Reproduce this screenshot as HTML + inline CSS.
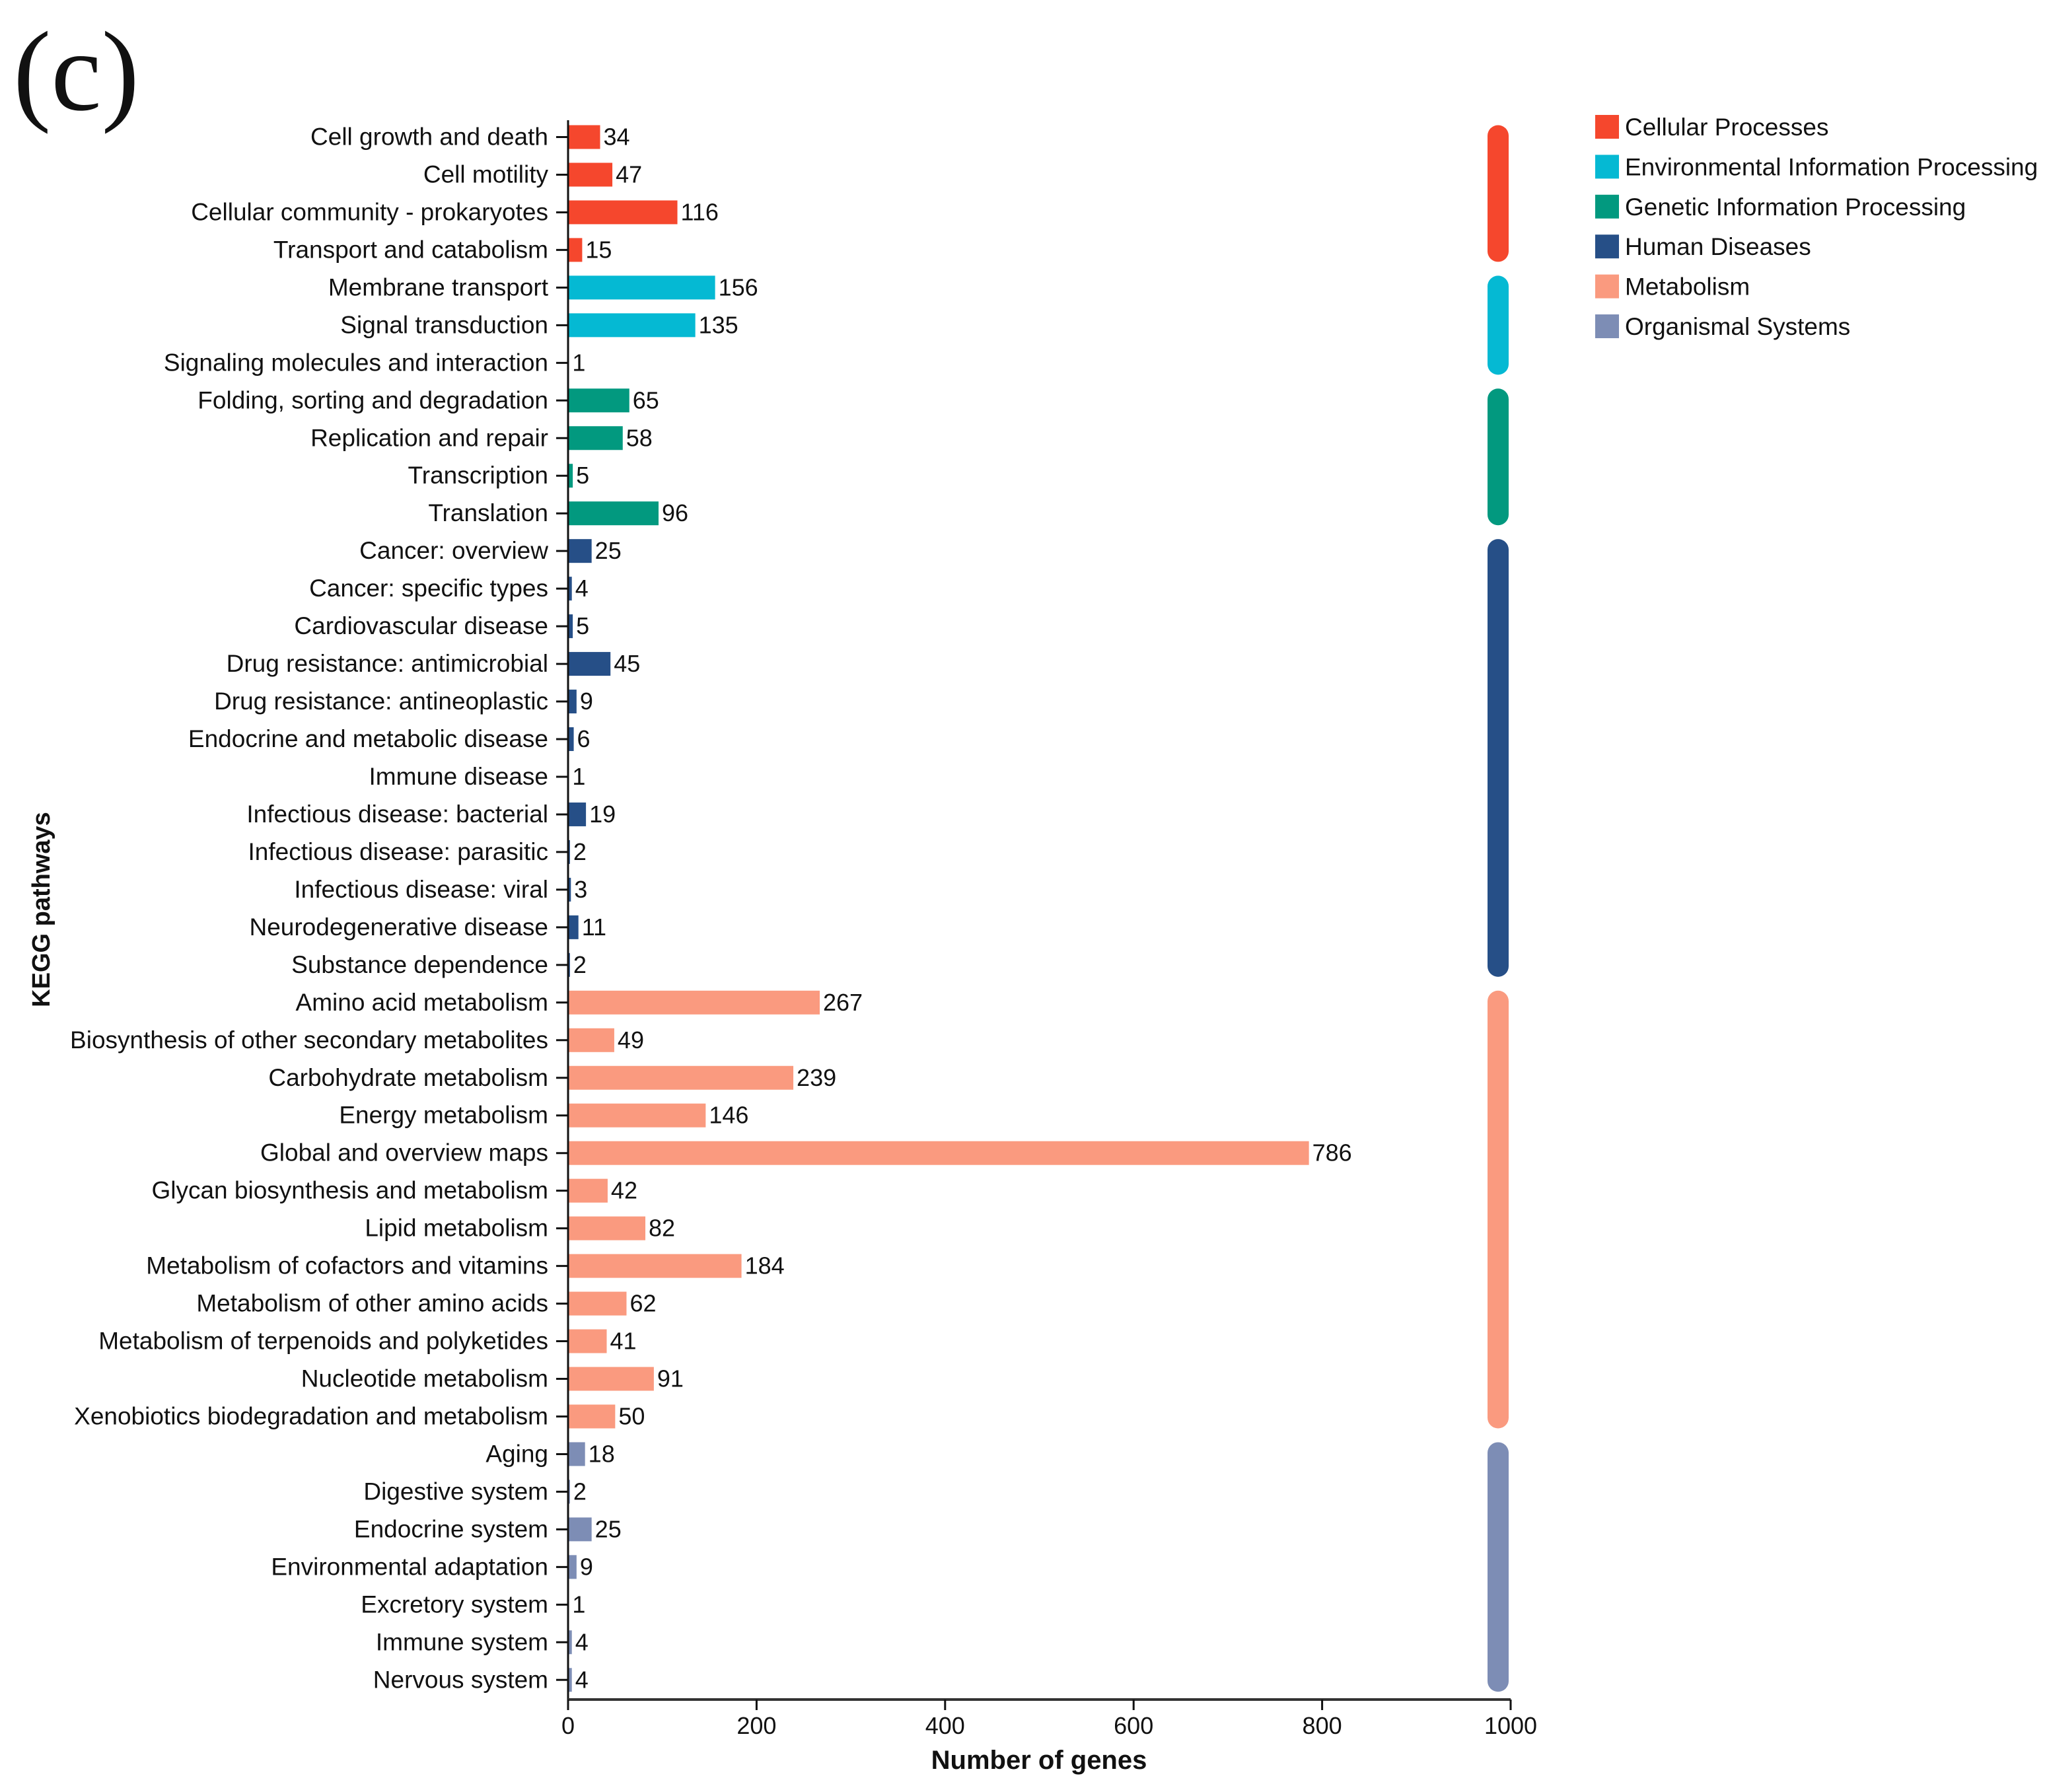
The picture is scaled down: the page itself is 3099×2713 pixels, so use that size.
<!DOCTYPE html>
<html><head><meta charset="utf-8"><style>
html,body{margin:0;padding:0;background:#fff;}
svg{display:block;font-family:"Liberation Sans",Arial,sans-serif;}
</style></head>
<body>
<svg id="chart" width="3099" height="2713" viewBox="0 0 3099 2713" xmlns="http://www.w3.org/2000/svg">
<text x="20" y="166" font-family="Liberation Serif, serif" font-size="172" fill="#111">(c)</text>
<text transform="translate(75,1377) rotate(-90)" text-anchor="middle" font-size="38" font-weight="bold" fill="#111">KEGG pathways</text>
<text x="1573" y="2678" text-anchor="middle" font-size="40" font-weight="bold" fill="#111">Number of genes</text>
<g id="bars"></g>
<g id="axes"></g>
<g id="groups"></g>
<g id="legend"></g>
</svg>
<script>
const categories = ["Cell growth and death","Cell motility","Cellular community - prokaryotes","Transport and catabolism","Membrane transport","Signal transduction","Signaling molecules and interaction","Folding, sorting and degradation","Replication and repair","Transcription","Translation","Cancer: overview","Cancer: specific types","Cardiovascular disease","Drug resistance: antimicrobial","Drug resistance: antineoplastic","Endocrine and metabolic disease","Immune disease","Infectious disease: bacterial","Infectious disease: parasitic","Infectious disease: viral","Neurodegenerative disease","Substance dependence","Amino acid metabolism","Biosynthesis of other secondary metabolites","Carbohydrate metabolism","Energy metabolism","Global and overview maps","Glycan biosynthesis and metabolism","Lipid metabolism","Metabolism of cofactors and vitamins","Metabolism of other amino acids","Metabolism of terpenoids and polyketides","Nucleotide metabolism","Xenobiotics biodegradation and metabolism","Aging","Digestive system","Endocrine system","Environmental adaptation","Excretory system","Immune system","Nervous system"];
const values = [34,47,116,15,156,135,1,65,58,5,96,25,4,5,45,9,6,1,19,2,3,11,2,267,49,239,146,786,42,82,184,62,41,91,50,18,2,25,9,1,4,4];
const groupIndex = [0,0,0,0,1,1,1,2,2,2,2,3,3,3,3,3,3,3,3,3,3,3,3,4,4,4,4,4,4,4,4,4,4,4,4,5,5,5,5,5,5,5];
const groupNames = ["Cellular Processes","Environmental Information Processing","Genetic Information Processing","Human Diseases","Metabolism","Organismal Systems"];
const groupColors = ["#F5472D","#05B9D3","#02997F","#264F87","#FA9A7F","#7D8DB5"];
const xTicks = [0,200,400,600,800,1000];

const NS="http://www.w3.org/2000/svg";
const X0=860, X1=2287, XMAX=1000, Y0=207.5, STEP=56.97, BH=36, AXY=2573;
const xs=v=>X0+(v/XMAX)*(X1-X0);
const ys=i=>Y0+i*STEP;
function mk(tag,attrs,parent,text){const e=document.createElementNS(NS,tag);for(const k in attrs)e.setAttribute(k,attrs[k]);if(text!==undefined)e.textContent=text;parent.appendChild(e);return e;}
const bars=document.getElementById('bars'), axes=document.getElementById('axes'), groups=document.getElementById('groups'), legend=document.getElementById('legend');

categories.forEach((c,i)=>{
  const y=ys(i), col=groupColors[groupIndex[i]];
  const r=mk('rect',{x:X0,y:y-BH/2,width:Math.max(xs(values[i])-X0,1),height:BH,fill:col},bars);
  
  
  const v=mk('text',{x:xs(values[i])+5,y:y+12,'font-size':36,fill:'#111'},bars,String(values[i]));
  
  
  const t=mk('text',{x:830,y:y+12,'font-size':37,'text-anchor':'end',fill:'#111'},axes,c);
  
  
  const tk=mk('line',{x1:842,x2:X0,y1:y,y2:y,stroke:'#111','stroke-width':3},axes);
  
  
});
const ya=mk('line',{x1:X0,x2:X0,y1:182,y2:AXY,stroke:'#111','stroke-width':3},axes);


const xa=mk('line',{x1:X0,x2:X1,y1:AXY,y2:AXY,stroke:'#333','stroke-width':4},axes);


xTicks.forEach(t=>{
  const l=mk('line',{x1:xs(t),x2:xs(t),y1:AXY,y2:AXY+16,stroke:'#111','stroke-width':3},axes);
  
  
  const tx=mk('text',{x:xs(t),y:2625,'font-size':36,'text-anchor':'middle',fill:'#111'},axes,String(t));
  
  
});
groupNames.forEach((g,gi)=>{
  const idx=groupIndex.map((v,i)=>v===gi?i:-1).filter(i=>i>=0);
  const top=ys(idx[0])-18, bot=ys(idx[idx.length-1])+18;
  const r=mk('rect',{x:2252,y:top,width:32,height:bot-top,rx:16,ry:16,fill:groupColors[gi]},groups);
  
  
  const ly=192+gi*60.4;
  const sq=mk('rect',{x:2415,y:ly-18,width:36,height:36,fill:groupColors[gi]},legend);
  
  
  const lt=mk('text',{x:2460,y:ly+13,'font-size':37,fill:'#111'},legend,g);
  
  
});
</script>
</body></html>
